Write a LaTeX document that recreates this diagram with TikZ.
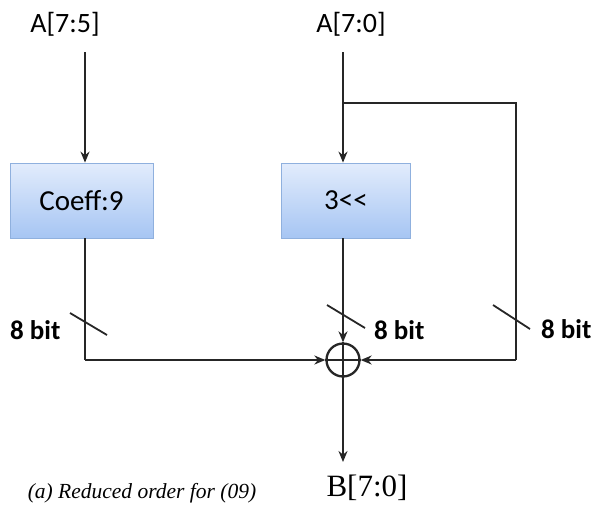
\documentclass[tikz,border=0pt]{standalone}
\usepackage{fontspec}
\setmainfont{Carlito}
\newfontfamily\timesf{Liberation Serif}
\usetikzlibrary{arrows.meta}
\definecolor{boxtop}{HTML}{E2ECFC}
\definecolor{boxbot}{HTML}{A6C5F3}
\definecolor{boxline}{HTML}{8FB0DE}
\tikzset{
  wire/.style={line width=2.5pt, draw=black!85},
  arr/.style={wire, -{Stealth[length=11pt,width=9pt]}},
  slash/.style={line width=1.8pt, draw=black!85},
  blk/.style={draw=boxline, line width=0.8pt, top color=boxtop, bottom color=boxbot,
    minimum width=143pt, minimum height=75pt, inner sep=0pt, font=\fontsize{29}{34}\selectfont},
  lbl/.style={font=\fontsize{28}{33}\selectfont, inner sep=0pt},
  bitlbl/.style={font=\fontsize{27}{32}\selectfont\bfseries, inner sep=0pt},
}
\begin{document}
\begin{tikzpicture}[x=1pt,y=-1pt]
\useasboundingbox (0,0) rectangle (598,507);
\node[lbl] (a75) at (65,24) {A[7:5]};
\node[lbl] (a70) at (351,24) {A[7:0]};
\coordinate (a75s) at (85,52);
\coordinate (a70s) at (343,52);
\node[blk] (coeff) at (81.5,200.5) {Coeff:9};
\node[blk, minimum width=129pt] (shift) at (346,200.5) {3<{}<};
\node[draw=black!85, line width=2.3pt, circle, minimum size=33pt, inner sep=0pt] (sum) at (343,360) {};
\draw[line width=1.8pt, black!85] (sum.north) -- (sum.south) (sum.west) -- (sum.east);
\coordinate (br) at (343,103);
\coordinate (rc) at (516,103);
\coordinate (rb) at (516,360);
\coordinate (lb) at (85,360);
\coordinate (bout) at (343,462);
\node[font=\timesf\fontsize{31}{36}\selectfont, inner sep=0pt] (b70) at (367,488) {B[7:0]};
\node[font=\timesf\itshape\fontsize{21.5}{26}\selectfont, inner sep=0pt] (cap) at (142,493) {(a) Reduced order for (09)};
% wires
\draw[arr] (a75s) -- (coeff.north -| a75s);
\draw[arr] (a70s) -- (shift.north -| a70s);
\draw[wire] (br) -- (rc) -- (rb);
\draw[arr] (rb) -- (sum.east);
\draw[wire] (coeff.south -| lb) -- (lb);
\draw[arr] (lb) -- (sum.west);
\draw[arr] (shift.south -| sum) -- (sum.north);
\draw[arr] (sum.south) -- (bout);
% bus width marks
\coordinate (s1a) at (70,313); \coordinate (s1b) at (107,335);
\coordinate (s2a) at (327,305); \coordinate (s2b) at (365,328);
\coordinate (s3a) at (493,305); \coordinate (s3b) at (530,329);
\draw[slash] (s1a) -- (s1b);
\draw[slash] (s2a) -- (s2b);
\draw[slash] (s3a) -- (s3b);
\node[bitlbl, anchor=west] (b1) at (10,330) {8 bit};
\node[bitlbl, anchor=west] (b2) at (374,330) {8 bit};
\node[bitlbl, anchor=west] (b3) at (541,329) {8 bit};
\end{tikzpicture}
\end{document}
